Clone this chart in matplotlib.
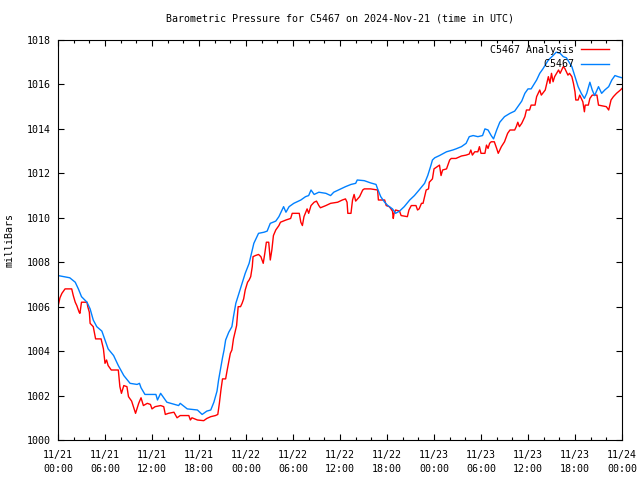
import matplotlib
matplotlib.use("Agg")
import matplotlib.pyplot as plt
import matplotlib.dates as mdates
from datetime import datetime, timedelta

# hours since 2024-11-21 00:00 UTC and pressure (mb)
obs_hours = [0.0, 1.5, 2.2, 2.6, 3.0, 3.7, 4.1, 4.5, 4.95, 5.6, 6.0, 6.4, 7.1, 7.7, 8.4, 9.2,
             10.1, 10.4, 10.6, 11.1, 12.5, 12.7, 13.1, 13.9, 15.4, 15.6, 16.5, 17.8, 18.4, 19.0,
             19.5, 19.9, 20.3, 20.5, 20.7, 21.0, 21.2, 21.4, 21.8, 22.2, 22.4, 22.7, 23.1, 23.5,
             23.9, 24.4, 24.8, 25.0, 25.6, 26.3, 26.7, 27.1, 27.8, 28.2, 28.6, 28.8, 29.1, 29.5,
             30.1, 31.0, 31.6, 32.0, 32.3, 32.7, 33.3, 34.2, 34.8, 35.2, 36.1, 36.7, 37.4, 38.0,
             38.2, 39.1, 39.9, 40.6, 40.8, 41.2, 41.7, 42.1, 42.7, 43.1, 43.6, 44.2, 44.9, 45.5,
             46.1, 46.8, 47.2, 47.6, 47.8, 48.1, 48.7, 49.6, 50.4, 50.8, 51.5, 52.1, 52.5, 53.0,
             53.6, 54.2, 54.5, 54.9, 55.3, 55.6, 56.0, 56.4, 57.0, 57.7, 58.3, 58.7, 59.2, 59.6,
             60.0, 60.4, 61.1, 61.5, 61.9, 62.6, 63.2, 63.6, 64.1, 64.5, 64.9, 65.6, 66.0, 66.4,
             66.8, 67.2, 67.5, 67.9, 68.2, 68.5, 69.0, 69.4, 69.8, 70.3, 70.7, 71.1, 71.5, 72.0]
obs_mb = [1007.4, 1007.3, 1007.1, 1006.8, 1006.45, 1006.2, 1005.9, 1005.4, 1005.1, 1004.9, 1004.5,
          1004.1, 1003.8, 1003.35, 1002.9, 1002.55, 1002.5, 1002.55, 1002.35, 1002.05, 1002.05,
          1001.8, 1002.1, 1001.7, 1001.55, 1001.65, 1001.4, 1001.35, 1001.15, 1001.3, 1001.35,
          1001.7, 1002.2, 1002.7, 1003.1, 1003.7, 1004.05, 1004.5, 1004.85, 1005.1, 1005.55,
          1006.15, 1006.6, 1007.05, 1007.5, 1007.95, 1008.55, 1008.85, 1009.3, 1009.35, 1009.4,
          1009.75, 1009.85, 1010.05, 1010.35, 1010.5, 1010.25, 1010.5, 1010.65, 1010.8, 1010.95,
          1011.0, 1011.25, 1011.05, 1011.15, 1011.1, 1011.0, 1011.15, 1011.3, 1011.4, 1011.5,
          1011.55, 1011.7, 1011.67, 1011.57, 1011.5, 1011.3, 1010.95, 1010.7, 1010.55, 1010.4,
          1010.2, 1010.3, 1010.5, 1010.8, 1011.0, 1011.25, 1011.55, 1011.9, 1012.35, 1012.6,
          1012.7, 1012.8, 1012.97, 1013.05, 1013.1, 1013.2, 1013.35, 1013.65, 1013.7, 1013.65,
          1013.7, 1014.0, 1013.95, 1013.7, 1013.55, 1013.95, 1014.3, 1014.55, 1014.7, 1014.8,
          1015.0, 1015.25, 1015.6, 1015.8, 1015.8, 1016.2, 1016.5, 1016.7, 1017.1, 1017.3,
          1017.45, 1017.4, 1017.25, 1017.2, 1016.8, 1016.35, 1015.9, 1015.6, 1015.37, 1015.6,
          1016.1, 1015.75, 1015.5, 1015.9, 1015.6, 1015.75, 1015.9, 1016.2, 1016.4, 1016.35, 1016.3]

ana_hours = [0.0, 0.25, 0.5, 0.9, 1.75, 1.95, 2.2, 2.4, 2.7, 2.8, 3.0, 3.7, 3.8, 4.0, 4.1, 4.5,
             4.8, 5.5, 5.8, 6.0, 6.2, 6.4, 6.8, 7.7, 7.9, 8.1, 8.4, 8.8, 9.0, 9.4, 9.9, 10.3,
             10.6, 10.9, 11.4, 11.8, 12.0, 12.4, 13.1, 13.5, 13.7, 14.1, 14.8, 15.2, 15.6, 16.7,
             16.9, 17.1, 17.8, 18.6, 19.0, 19.5, 20.1, 20.4, 20.6, 20.8, 21.0, 21.4, 21.6, 22.0,
             22.2, 22.4, 22.8, 23.0, 23.3, 23.5, 23.7, 23.9, 24.2, 24.4, 24.6, 24.8, 24.9, 25.2,
             25.6, 25.9, 26.2, 26.4, 26.6, 26.9, 27.1, 27.3, 27.5, 27.8, 28.2, 28.4, 29.1, 29.7,
             29.9, 30.8, 31.0, 31.2, 31.4, 31.8, 32.0, 32.3, 32.7, 33.0, 33.3, 33.5, 34.2, 34.8,
             35.7, 36.3, 36.7, 36.9, 37.0, 37.4, 37.6, 37.8, 38.0, 38.5, 38.9, 39.1, 39.9, 40.8,
             40.9, 41.7, 41.9, 42.3, 42.7, 42.8, 42.9, 43.1, 43.6, 43.8, 44.6, 44.8, 45.1, 45.7,
             45.9, 46.1, 46.4, 46.6, 46.8, 47.0, 47.3, 47.4, 47.8, 48.0, 48.4, 48.7, 48.9, 49.1,
             49.6, 50.0, 50.2, 50.8, 51.5, 52.1, 52.5, 52.7, 52.9, 53.2, 53.6, 53.8, 54.0, 54.5,
             54.7, 54.9, 55.1, 55.3, 55.7, 56.0, 56.2, 56.6, 57.0, 57.4, 57.7, 58.3, 58.5, 58.7,
             58.9, 59.2, 59.6, 59.8, 60.2, 60.4, 60.9, 61.1, 61.5, 61.7, 62.2, 62.6, 62.8, 63.0,
             63.2, 63.4, 63.9, 64.1, 64.5, 64.7, 64.9, 65.1, 65.3, 65.6, 65.8, 66.0, 66.1, 66.4,
             66.6, 67.0, 67.2, 67.3, 67.7, 67.9, 68.2, 68.8, 69.0, 69.6, 70.0, 70.3, 70.6, 70.9,
             71.3, 71.8, 72.0]
ana_mb = [1006.0, 1006.4, 1006.6, 1006.8, 1006.8, 1006.5, 1006.2, 1006.05, 1005.75, 1005.7, 1006.2,
          1006.2, 1006.0, 1005.75, 1005.25, 1005.1, 1004.55, 1004.55, 1004.1, 1003.45, 1003.6,
          1003.35, 1003.15, 1003.15, 1002.4, 1002.1, 1002.45, 1002.4, 1001.95, 1001.75, 1001.2,
          1001.65, 1001.9, 1001.55, 1001.65, 1001.6, 1001.4, 1001.5, 1001.55, 1001.5, 1001.15,
          1001.2, 1001.25, 1001.0, 1001.1, 1001.1, 1000.9, 1001.0, 1000.9, 1000.87, 1000.97,
          1001.05, 1001.1, 1001.15, 1001.65, 1002.25, 1002.75, 1002.75, 1003.15, 1003.9, 1004.05,
          1004.55, 1005.15, 1006.0, 1006.0, 1006.15, 1006.35, 1006.75, 1007.1, 1007.2, 1007.35,
          1007.8, 1008.25, 1008.3, 1008.35, 1008.25, 1007.95, 1008.4, 1008.9, 1008.9, 1008.1,
          1008.55, 1009.2, 1009.45, 1009.65, 1009.8, 1009.9, 1009.97, 1010.2, 1010.2, 1009.8,
          1009.65, 1010.05, 1010.4, 1010.2, 1010.55, 1010.7, 1010.75, 1010.55, 1010.45, 1010.55,
          1010.65, 1010.7, 1010.8, 1010.85, 1010.7, 1010.2, 1010.2, 1010.8, 1011.05, 1010.75,
          1010.95, 1011.25, 1011.3, 1011.3, 1011.25, 1010.8, 1010.8, 1010.55, 1010.5, 1010.3,
          1009.97, 1010.2, 1010.35, 1010.3, 1010.1, 1010.05, 1010.35, 1010.55, 1010.55, 1010.35,
          1010.4, 1010.65, 1010.65, 1010.95, 1011.25, 1011.3, 1011.6, 1011.75, 1012.2, 1012.3,
          1012.37, 1011.9, 1012.15, 1012.2, 1012.6, 1012.67, 1012.67, 1012.78, 1012.82, 1012.87,
          1013.05, 1012.82, 1012.97, 1012.97, 1013.2, 1012.9, 1012.9, 1013.27, 1013.12, 1013.35,
          1013.42, 1013.42, 1013.12, 1012.9, 1013.2, 1013.42, 1013.8, 1013.95, 1013.95, 1014.1,
          1014.3, 1014.1, 1014.25, 1014.55, 1014.85, 1014.85, 1015.07, 1015.07, 1015.45, 1015.75,
          1015.52, 1015.75, 1016.35, 1016.05, 1016.5, 1016.12, 1016.35, 1016.65, 1016.5, 1016.8,
          1016.72, 1016.57, 1016.42, 1016.5, 1016.35, 1016.05, 1015.67, 1015.3, 1015.3, 1015.52,
          1015.22, 1014.77, 1015.07, 1015.07, 1015.37, 1015.52, 1015.52, 1015.07, 1015.03, 1015.0,
          1014.85, 1015.3, 1015.45, 1015.6, 1015.75, 1015.82]

start = datetime(2024, 11, 21)
obs_t = [start + timedelta(hours=h) for h in obs_hours]
ana_t = [start + timedelta(hours=h) for h in ana_hours]

plt.rcParams['font.family'] = 'DejaVu Sans Mono'
plt.rcParams['font.size'] = 7.2

fig = plt.figure(figsize=(6.4, 4.8), dpi=100)
ax = fig.add_axes([58/640, 40/480, 564/640, 400/480])

ax.plot(ana_t, ana_mb, color='#ff0000', lw=1.0, label='C5467 Analysis')
ax.plot(obs_t, obs_mb, color='#0080ff', lw=1.0, label='C5467'.rjust(14))

ax.set_xlim(start, start + timedelta(hours=72))
ax.set_ylim(1000, 1018)
ax.set_yticks(range(1000, 1019, 2))
ax.xaxis.set_major_locator(mdates.HourLocator(byhour=[0, 6, 12, 18]))
ax.xaxis.set_minor_locator(mdates.HourLocator(byhour=range(0, 24, 2)))
ax.xaxis.set_major_formatter(mdates.DateFormatter('%m/%d\n%H:%M'))
ax.tick_params(which='both', direction='in', top=True, right=True, width=0.8)
ax.tick_params(which='major', length=4.5, pad=5)
ax.tick_params(which='minor', length=2.5)
ax.tick_params(axis='x', which='major', pad=7)
for lbl in ax.get_xticklabels():
    lbl.set_linespacing(1.5)

ax.set_title('Barometric Pressure for C5467 on 2024-Nov-21 (time in UTC)', fontsize=7.2, pad=13)
ax.set_ylabel('milliBars', labelpad=9)

ax.legend(loc='upper right', bbox_to_anchor=(1 - 8/564, 1.0), frameon=False, markerfirst=False,
          handlelength=2.8, handletextpad=0.7, labelspacing=0.45, borderaxespad=0.3, borderpad=0.2)

plt.savefig('out.png', dpi=100)
